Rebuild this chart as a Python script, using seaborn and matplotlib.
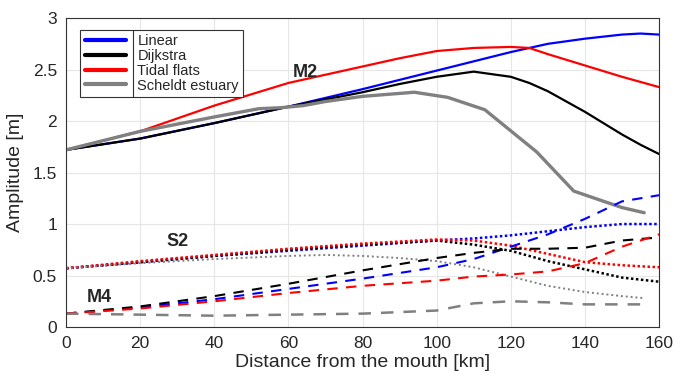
import numpy as np
import pandas as pd
import matplotlib.pyplot as plt
import seaborn as sns

# M2 (solid)
x_m2 = [0, 20, 40, 60, 80, 90, 100, 110, 120, 125, 130, 140, 150, 155, 160]
m2_linear = [1.72, 1.83, 1.98, 2.14, 2.31, 2.40, 2.49, 2.58, 2.67, 2.71, 2.75, 2.80, 2.84, 2.85, 2.84]
m2_dijkstra = [1.72, 1.83, 1.98, 2.14, 2.28, 2.36, 2.43, 2.48, 2.43, 2.37, 2.29, 2.09, 1.87, 1.77, 1.68]
m2_tidal = [1.72, 1.90, 2.15, 2.37, 2.53, 2.61, 2.68, 2.71, 2.72, 2.71, 2.65, 2.54, 2.43, 2.38, 2.33]
x_sch = [0, 10, 20, 30, 40, 52, 58, 64, 70, 80, 94, 103, 113, 127, 137, 150, 156]
m2_scheldt = [1.72, 1.81, 1.90, 1.97, 2.04, 2.12, 2.13, 2.15, 2.19, 2.24, 2.28, 2.23, 2.11, 1.70, 1.32, 1.16, 1.11]

# S2 (dotted)
x_s = [0, 20, 40, 60, 80, 100, 110, 120, 130, 140, 150, 160]
s2_linear = [0.57, 0.63, 0.69, 0.74, 0.79, 0.84, 0.86, 0.89, 0.93, 0.97, 1.00, 1.00]
s2_dijkstra = [0.57, 0.63, 0.69, 0.75, 0.80, 0.84, 0.80, 0.74, 0.64, 0.56, 0.48, 0.44]
s2_tidal = [0.57, 0.64, 0.70, 0.76, 0.81, 0.85, 0.84, 0.79, 0.71, 0.63, 0.60, 0.58]
x_s_sch = [0, 20, 40, 60, 70, 80, 90, 100, 110, 120, 130, 140, 150, 156]
s2_scheldt = [0.57, 0.62, 0.66, 0.69, 0.70, 0.69, 0.67, 0.64, 0.58, 0.49, 0.40, 0.34, 0.30, 0.28]

# M4 (dashed)
m4_linear = [0.13, 0.19, 0.27, 0.37, 0.47, 0.58, 0.66, 0.78, 0.90, 1.05, 1.22, 1.28]
m4_dijkstra = [0.13, 0.20, 0.30, 0.42, 0.55, 0.67, 0.72, 0.76, 0.76, 0.77, 0.84, 0.87]
m4_tidal = [0.13, 0.18, 0.25, 0.33, 0.40, 0.45, 0.49, 0.51, 0.54, 0.62, 0.78, 0.90]
x_m4_sch = [0, 20, 40, 60, 80, 100, 110, 120, 130, 140, 150, 156]
m4_scheldt = [0.13, 0.12, 0.11, 0.12, 0.13, 0.16, 0.23, 0.25, 0.24, 0.22, 0.22, 0.22]

sns.set_style("whitegrid", {"grid.color": "#e6e6e6", "axes.edgecolor": "#333333"})
plt.rcParams['font.family'] = ['Liberation Sans', 'DejaVu Sans']

fig = plt.figure(figsize=(6.89, 3.85), dpi=100)
ax = fig.add_axes([0.0958, 0.1506, 0.8607, 0.8024])

cols = {"Linear": "#0000ff", "Dijkstra": "#000000", "Tidal flats": "#ff0000", "Scheldt estuary": "#808080"}

sns.lineplot(x=x_m2, y=m2_linear, color=cols["Linear"], lw=1.6, label="Linear", ax=ax)
sns.lineplot(x=x_m2, y=m2_dijkstra, color=cols["Dijkstra"], lw=1.6, label="Dijkstra", ax=ax)
sns.lineplot(x=x_m2, y=m2_tidal, color=cols["Tidal flats"], lw=1.6, label="Tidal flats", ax=ax)
sns.lineplot(x=x_sch, y=m2_scheldt, color=cols["Scheldt estuary"], lw=2.4, label="Scheldt estuary", ax=ax)

for y, c in [(s2_linear, "Linear"), (s2_dijkstra, "Dijkstra"), (s2_tidal, "Tidal flats")]:
    sns.lineplot(x=x_s, y=y, color=cols[c], lw=1.8, ls=(0, (1, 1)), ax=ax)
sns.lineplot(x=x_s_sch, y=s2_scheldt, color=cols["Scheldt estuary"], lw=1.4, ls=(0, (1, 1.5)), ax=ax)

for y, c in [(m4_linear, "Linear"), (m4_dijkstra, "Dijkstra"), (m4_tidal, "Tidal flats")]:
    sns.lineplot(x=x_s, y=y, color=cols[c], lw=1.5, ls=(0, (5, 4)), ax=ax)
sns.lineplot(x=x_m4_sch, y=m4_scheldt, color=cols["Scheldt estuary"], lw=1.8, ls=(0, (5, 4)), ax=ax)

ax.text(64.5, 2.47, "M2", fontsize=13, fontweight="bold", ha="center", va="center")
ax.text(30, 0.83, "S2", fontsize=13, fontweight="bold", ha="center", va="center")
ax.text(9, 0.29, "M4", fontsize=13, fontweight="bold", ha="center", va="center")

ax.set_xlim(0, 160)
ax.set_ylim(0, 3)
ax.set_xticks(range(0, 161, 20))
ax.set_yticks([0, 0.5, 1, 1.5, 2, 2.5, 3])
ax.set_yticklabels(["0", "0.5", "1", "1.5", "2", "2.5", "3"])
ax.tick_params(labelsize=12.5, pad=3)
ax.set_xlabel("Distance from the mouth [km]", fontsize=14, labelpad=2)
ax.set_ylabel("Amplitude [m]", fontsize=14, labelpad=6)
for s in ax.spines.values():
    s.set_linewidth(0.8)

leg = ax.legend(loc="upper left", fontsize=10.5, frameon=True, fancybox=False, framealpha=1,
                edgecolor="#333333", handlelength=2.8, borderpad=0.3, labelspacing=0.05,
                handletextpad=0.8, bbox_to_anchor=(0.012, 0.985))
for h in leg.get_lines():
    h.set_linewidth(3)
leg.get_frame().set_linewidth(0.8)

# MATLAB-style separator between legend handles and labels
fig.canvas.draw()
lb = leg.get_window_extent()
tx = min(t.get_window_extent().x0 for t in leg.get_texts()) - 4
inv = fig.transFigure.inverted()
(x0, y0), (x1, y1) = inv.transform([(tx, lb.y0), (tx, lb.y1)])
fig.add_artist(plt.Line2D([x0, x1], [y0, y1], color="#333333", lw=0.8))

fig.savefig("out.png", dpi=100)
